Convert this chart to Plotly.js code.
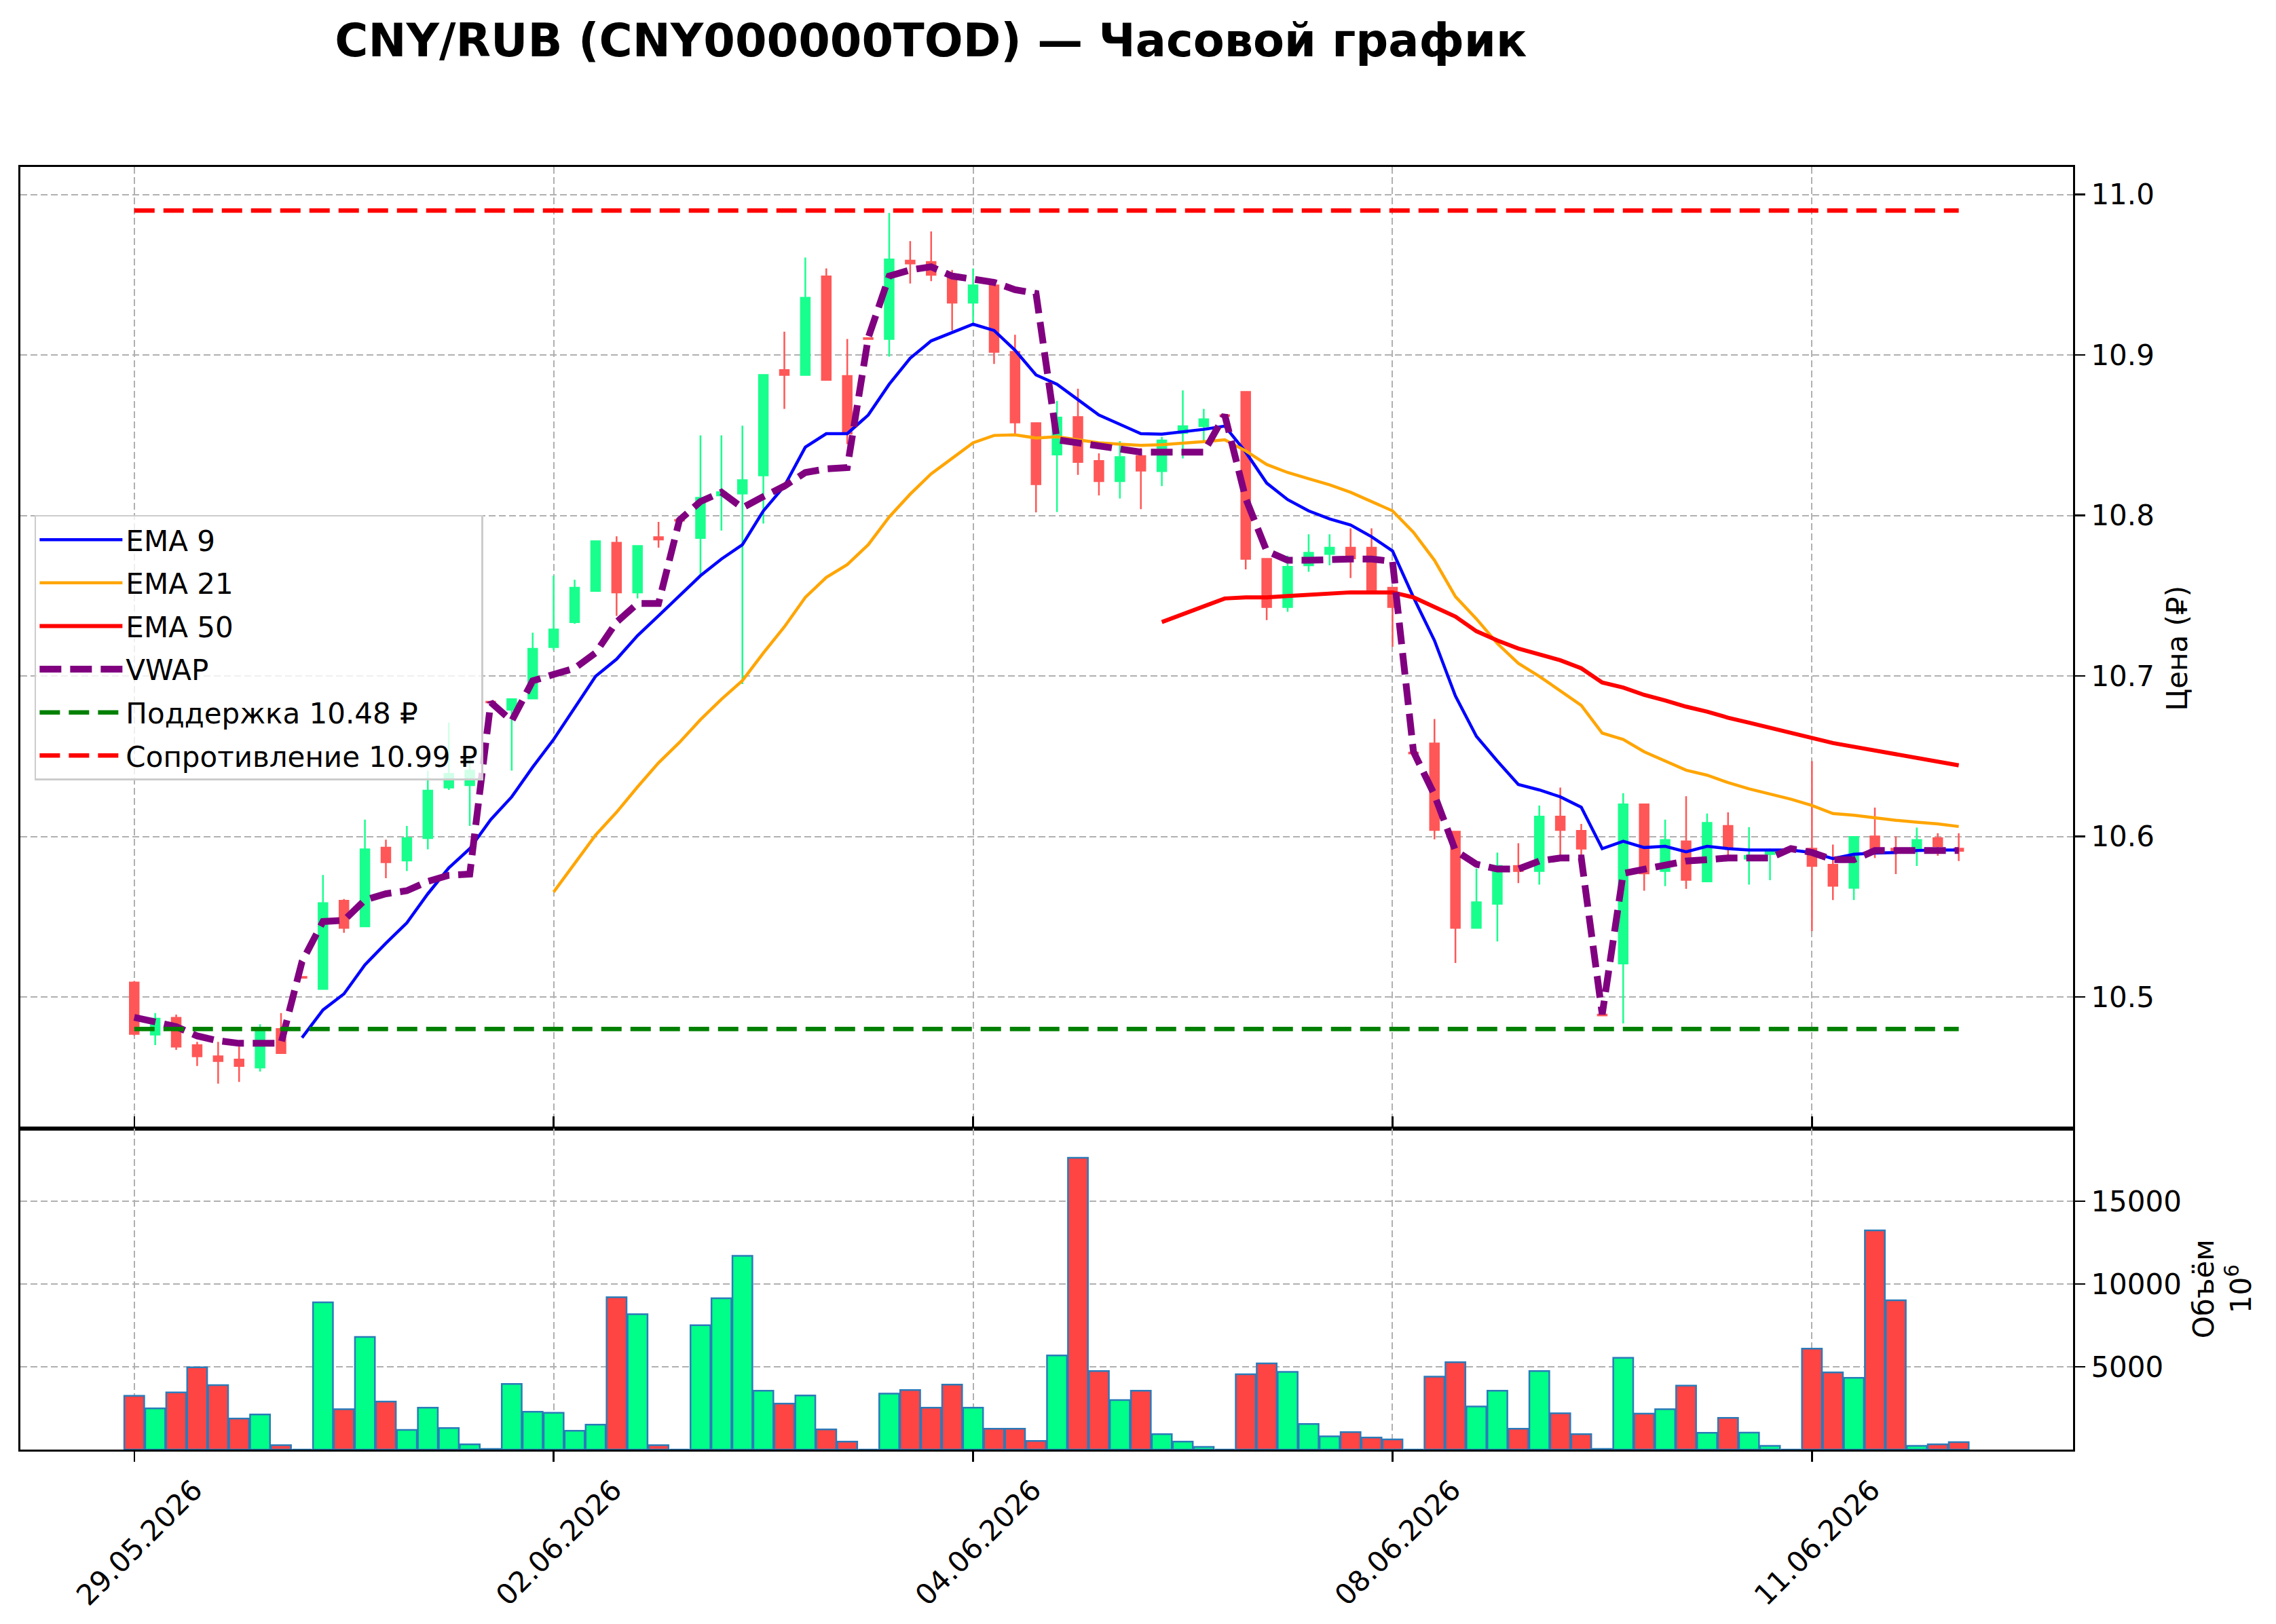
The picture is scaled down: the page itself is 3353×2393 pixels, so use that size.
<!DOCTYPE html>
<html>
<head>
<meta charset="utf-8">
<script src="https://cdn.plot.ly/plotly-3.0.1.min.js"></script>
<style>html,body{margin:0;padding:0;background:#fff;}#chart{width:3353px;height:2393px;}</style>
</head>
<body>
<div id="chart"></div>
<script>
// ---- Data ----
const TITLE = "CNY/RUB (CNY000000TOD) — Часовой график";
const DATE_TICK_POS = [0, 20, 40, 60, 80];
const DATE_TICK_TEXT = ["29.05.2026", "02.06.2026", "04.06.2026", "08.06.2026", "11.06.2026"];
const PRICE_TICKS = [10.5, 10.6, 10.7, 10.8, 10.9, 11.0];
const VOLUME_TICKS = [5000, 10000, 15000];
const SUPPORT = 10.48;
const RESISTANCE = 10.99;

const open = [10.509,10.4765,10.487,10.470,10.463,10.461,10.456,10.480,10.5125,10.505,
  10.560,10.544,10.593,10.585,10.599,10.6305,10.632,10.684,10.679,10.686,
  10.718,10.7336,10.753,10.783,10.752,10.7865,10.7973,10.786,10.8125,10.8137,
  10.825,10.8907,10.8876,10.949,10.887,10.9105,10.910,10.9588,10.958,10.950,
  10.9326,10.9434,10.902,10.8576,10.838,10.8614,10.834,10.8214,10.837,10.8276,
  10.8514,10.8557,10.8625,10.877,10.773,10.743,10.769,10.776,10.780,10.780,
  10.755,10.6522,10.658,10.603,10.543,10.558,10.5816,10.5785,10.6124,10.6035,
  10.489,10.5208,10.620,10.5785,10.597,10.572,10.6066,10.5862,10.589,10.5929,
  10.5924,10.5824,10.568,10.600,10.5924,10.5924,10.599,10.5924];
const high = [10.510,10.490,10.489,10.472,10.472,10.469,10.483,10.490,10.5125,10.576,
  10.561,10.6105,10.598,10.6066,10.641,10.671,10.649,10.684,10.6855,10.727,
  10.7625,10.760,10.784,10.787,10.7814,10.796,10.7973,10.850,10.850,10.856,
  10.888,10.9145,10.9607,10.954,10.910,10.9105,10.9885,10.971,10.977,10.953,
  10.954,10.9434,10.9126,10.8576,10.8714,10.879,10.8387,10.8464,10.842,10.849,
  10.878,10.8664,10.8625,10.877,10.773,10.775,10.7883,10.7883,10.792,10.792,
  10.755,10.6522,10.6732,10.603,10.580,10.590,10.5958,10.6193,10.6305,10.6078,
  10.489,10.627,10.620,10.6105,10.6251,10.6143,10.615,10.6058,10.5924,10.5929,
  10.647,10.595,10.5997,10.618,10.600,10.6055,10.602,10.602];
const low = [10.476,10.470,10.467,10.457,10.446,10.447,10.4535,10.465,10.512,10.505,
  10.540,10.544,10.574,10.5785,10.592,10.629,10.6066,10.6835,10.641,10.686,
  10.716,10.7325,10.753,10.7375,10.7483,10.780,10.7968,10.7625,10.7906,10.695,
  10.795,10.8664,10.8876,10.8845,10.8445,10.910,10.899,10.9446,10.946,10.9153,
  10.920,10.8945,10.850,10.802,10.8022,10.8253,10.8125,10.8106,10.804,10.8183,
  10.8356,10.8453,10.862,10.7664,10.7348,10.740,10.765,10.769,10.761,10.752,
  10.7182,10.6517,10.5982,10.5212,10.543,10.5346,10.571,10.570,10.5866,10.5778,
  10.4885,10.4835,10.5662,10.569,10.5674,10.572,10.5866,10.570,10.5727,10.5924,
  10.541,10.5604,10.5604,10.5866,10.5766,10.5816,10.588,10.5847];
const close = [10.477,10.4865,10.469,10.463,10.460,10.457,10.480,10.465,10.512,10.5585,
  10.543,10.592,10.584,10.599,10.6286,10.639,10.641,10.6835,10.6855,10.717,
  10.729,10.755,10.784,10.752,10.781,10.785,10.7968,10.811,10.8145,10.822,
  10.8876,10.8876,10.9357,10.8845,10.851,10.910,10.9596,10.957,10.950,10.9326,
  10.9434,10.902,10.858,10.8195,10.861,10.8333,10.8214,10.8364,10.828,10.8468,
  10.8557,10.860,10.862,10.773,10.743,10.768,10.7768,10.780,10.7733,10.752,
  10.743,10.6517,10.604,10.543,10.559,10.5816,10.5785,10.6124,10.604,10.5924,
  10.4885,10.620,10.577,10.5978,10.573,10.6085,10.5931,10.588,10.591,10.5924,
  10.5816,10.5693,10.5997,10.5924,10.591,10.5978,10.594,10.591];
const volume = [3250,2490,3450,4970,3900,1880,2120,270,0,8900,
  2440,6810,2900,1190,2530,1300,320,40,3970,2290,
  2220,1140,1510,9210,8180,270,0,7510,9150,11710,
  3560,2780,3270,1220,480,0,3380,3600,2530,3930,
  2530,1260,1260,520,5690,17630,4750,2990,3560,930,
  480,160,0,4550,5210,4700,1550,800,1060,730,
  620,0,4410,5280,2600,3560,1260,4750,2190,930,
  40,5550,2170,2440,3860,1010,1920,1030,230,0,
  6100,4660,4340,13250,9020,230,320,450];
const ema9 = [null,null,null,null,null,null,null,null,10.4746,10.4919,
  10.5019,10.520,10.5335,10.5462,10.5643,10.5804,10.5924,10.6105,10.6247,10.6432,
  10.6605,10.6798,10.6998,10.7105,10.7252,10.7375,10.7498,10.7625,10.7729,10.7818,
  10.8029,10.8183,10.8426,10.851,10.851,10.8626,10.8818,10.898,10.9088,10.9138,
  10.9192,10.9153,10.903,10.8876,10.8818,10.8722,10.8626,10.8568,10.851,10.8507,
  10.8522,10.8537,10.8557,10.8395,10.8202,10.8099,10.8029,10.7979,10.7941,10.7868,
  10.7779,10.749,10.7221,10.6875,10.6624,10.647,10.6324,10.629,10.6247,10.6182,
  10.5924,10.597,10.5931,10.5939,10.5904,10.5939,10.5924,10.5916,10.5916,10.5916,
  10.590,10.5862,10.5889,10.5897,10.590,10.5912,10.5916,10.5916];
const ema21 = [null,null,null,null,null,null,null,null,null,null,
  null,null,null,null,null,null,null,null,null,null,
  10.5654,10.5828,10.6009,10.6151,10.6309,10.6459,10.6586,10.6728,10.6855,10.6971,
  10.7144,10.7306,10.749,10.7614,10.7694,10.7818,10.7991,10.8133,10.826,10.8356,
  10.8453,10.8499,10.8503,10.8483,10.8491,10.8472,10.8453,10.8445,10.8437,10.8441,
  10.8449,10.846,10.8472,10.8403,10.8318,10.8268,10.8229,10.8191,10.8145,10.8087,
  10.8029,10.7895,10.7721,10.7495,10.7356,10.7202,10.7079,10.6998,10.6905,10.6817,
  10.6644,10.6605,10.6528,10.647,10.6413,10.6382,10.6336,10.6297,10.6266,10.6232,
  10.6193,10.6143,10.6132,10.6116,10.6101,10.6089,10.6078,10.6062];
const ema50 = [null,null,null,null,null,null,null,null,null,null,
  null,null,null,null,null,null,null,null,null,null,
  null,null,null,null,null,null,null,null,null,null,
  null,null,null,null,null,null,null,null,null,null,
  null,null,null,null,null,null,null,null,null,10.7336,
  10.7383,10.7433,10.7483,10.749,10.749,10.7498,10.7506,10.7513,10.7521,10.7521,
  10.7521,10.749,10.7433,10.737,10.7279,10.7221,10.7171,10.7136,10.7098,10.7048,
  10.6959,10.6928,10.6882,10.6848,10.6809,10.6778,10.674,10.6709,10.6678,10.6647,
  10.6617,10.6582,10.6559,10.6536,10.6513,10.649,10.647,10.6443];
const vwap = [10.4873,10.4842,10.4815,10.4757,10.4727,10.4711,10.4711,10.4711,10.522,10.547,
  10.5477,10.5604,10.5643,10.5662,10.572,10.5758,10.5766,10.6836,10.672,10.697,
  10.701,10.7048,10.7144,10.7336,10.7452,10.7452,10.7972,10.8087,10.8145,10.8048,
  10.8118,10.8183,10.8268,10.8291,10.8299,10.9107,10.9492,10.953,10.955,10.9492,
  10.9473,10.9453,10.9407,10.9384,10.8472,10.8453,10.8426,10.8407,10.8395,10.8395,
  10.8395,10.8395,10.8626,10.8106,10.7779,10.7721,10.7721,10.7729,10.7729,10.7729,
  10.7714,10.6528,10.6259,10.5912,10.5827,10.5797,10.5797,10.5847,10.5866,10.5866,
  10.4892,10.577,10.5797,10.5816,10.5847,10.5855,10.5866,10.5866,10.5866,10.5924,
  10.590,10.5855,10.5855,10.5912,10.5912,10.5912,10.5912,10.5912];

// ---- Styling ----
const FONT = "DejaVu Sans, Liberation Sans, sans-serif";
const UP_BODY = "#19ff8d", DOWN_BODY = "#ff5757";
const UP_VOL = "#00ff88", DOWN_VOL = "#ff4444";
const GRID = "#b0b0b0";

const idx = open.map((_, i) => i);
const volColors = idx.map(i => close[i] > open[i] ? UP_VOL : DOWN_VOL);

const traces = [
  {type: "candlestick", x: idx, open: open, high: high, low: low, close: close,
   xaxis: "x", yaxis: "y", showlegend: false, hoverinfo: "skip", whiskerwidth: 0,
   increasing: {line: {color: UP_BODY, width: 2.5}, fillcolor: UP_BODY},
   decreasing: {line: {color: DOWN_BODY, width: 2.5}, fillcolor: DOWN_BODY}},
  {type: "bar", x: idx, y: volume, xaxis: "x", yaxis: "y2", showlegend: false,
   width: 0.95, hoverinfo: "skip",
   marker: {color: volColors, line: {color: "#2b7bb9", width: 2.5}}},
  {type: "scatter", mode: "lines", name: "EMA 9", legendgroup: "g1", x: idx, y: ema9,
   xaxis: "x", yaxis: "y", line: {color: "blue", width: 4.5}},
  {type: "scatter", mode: "lines", name: "EMA 21", legendgroup: "g2", x: idx, y: ema21,
   xaxis: "x", yaxis: "y", line: {color: "orange", width: 4.5}},
  {type: "scatter", mode: "lines", name: "EMA 50", legendgroup: "g3", x: idx, y: ema50,
   xaxis: "x", yaxis: "y", line: {color: "red", width: 6}},
  {type: "scatter", mode: "lines", name: "VWAP", legendgroup: "g4", x: idx, y: vwap,
   xaxis: "x", yaxis: "y", line: {color: "purple", width: 10, dash: "32px,13px"}},
  {type: "scatter", mode: "lines", name: "Поддержка " + SUPPORT.toFixed(2) + " ₽", legendgroup: "g5",
   x: idx, y: idx.map(() => SUPPORT), xaxis: "x", yaxis: "y",
   line: {color: "green", width: 6.5, dash: "30px,13px"}},
  {type: "scatter", mode: "lines", name: "Сопротивление " + RESISTANCE.toFixed(2) + " ₽", legendgroup: "g6",
   x: idx, y: idx.map(() => RESISTANCE), xaxis: "x", yaxis: "y",
   line: {color: "red", width: 6.5, dash: "30px,13px"}}
];

const VOL_TOP = 0.2503;
const axisCommon = {
  showline: true, linecolor: "black", linewidth: 3,
  ticks: "outside", ticklen: 15, tickwidth: 2.5, tickcolor: "black",
  showgrid: true, gridcolor: GRID, gridwidth: 2, griddash: "10px,5px",
  zeroline: false, tickfont: {family: FONT, size: 42, color: "black"}
};

const layout = {
  width: 3353, height: 2393,
  margin: {l: 30, r: 299, t: 246, b: 257},
  paper_bgcolor: "white", plot_bgcolor: "white",
  font: {family: FONT, color: "black"},
  showlegend: true,
  title: {text: TITLE, xref: "container", yref: "container", x: 0.409, y: 0.975,
          xanchor: "center", yanchor: "middle",
          font: {family: FONT, size: 67, weight: "bold", color: "black"}},
  boxgap: 0.4,
  xaxis: Object.assign({}, axisCommon, {
    anchor: "y2", range: [-5.43, 92.45], mirror: "all",
    tickmode: "array", tickvals: DATE_TICK_POS, ticktext: DATE_TICK_TEXT,
    tickangle: -45, ticklabelshift: 88,
    rangeslider: {visible: false}
  }),
  yaxis: Object.assign({}, axisCommon, {
    domain: [VOL_TOP, 1], range: [10.418, 11.0172], side: "right", anchor: "x",
    mirror: true, tickmode: "array", tickvals: PRICE_TICKS, tickformat: ".1f"
  }),
  yaxis2: Object.assign({}, axisCommon, {
    domain: [0, VOL_TOP], range: [0, 19400], side: "right", anchor: "x",
    mirror: true, tickmode: "array", tickvals: VOLUME_TICKS, tickformat: "d"
  }),
  legend: {x: 0.0069, y: 0.7286, xanchor: "left", yanchor: "top",
           bgcolor: "rgba(255,255,255,0.8)", bordercolor: "#cccccc", borderwidth: 2.5,
           font: {family: FONT, size: 42, color: "black"}, itemwidth: 122,
           tracegroupgap: 6},
  annotations: [
    {text: "Цена (₽)", xref: "paper", yref: "paper", x: 1.0509, y: (VOL_TOP + 1) / 2,
     xanchor: "center", yanchor: "middle", textangle: -90, showarrow: false,
     font: {family: FONT, size: 42, color: "black"}},
    {text: "Объём<br>10<sup>6</sup>", xref: "paper", yref: "paper", x: 1.0730, y: VOL_TOP / 2,
     xanchor: "center", yanchor: "middle", textangle: -90, showarrow: false,
     font: {family: FONT, size: 42, color: "black"}}
  ]
};

Plotly.newPlot("chart", traces, layout, {staticPlot: true, displayModeBar: false});
</script>
</body>
</html>
